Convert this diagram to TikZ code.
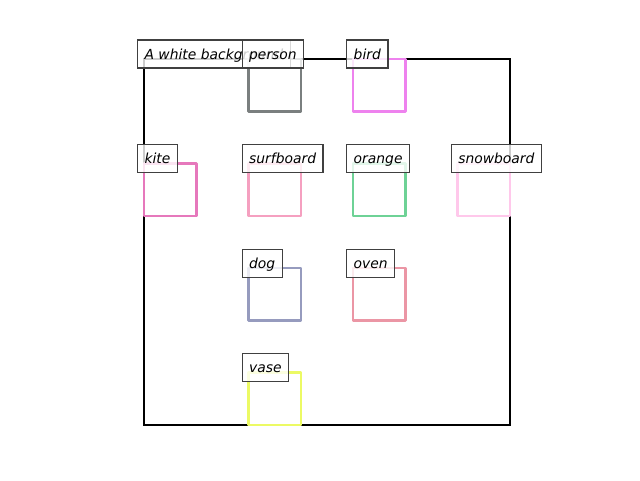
\documentclass[tikz,border=0pt]{standalone}
\usepackage{fontspec}
\newfontfamily\labfont{DejaVu Sans}
\definecolor{cperson}{RGB}{122,127,127}
\definecolor{cbird}{RGB}{238,130,238}
\definecolor{ckite}{RGB}{230,120,188}
\definecolor{csurf}{RGB}{245,160,192}
\definecolor{corange}{RGB}{110,210,150}
\definecolor{csnow}{RGB}{255,200,235}
\definecolor{cdog}{RGB}{150,155,190}
\definecolor{coven}{RGB}{235,150,165}
\definecolor{cvase}{RGB}{236,250,100}
\tikzset{
  frame/.style={draw=black, line width=1.8pt},
  obj/.style={draw=#1, line width=1.9pt, line join=round},
  lab/.style={anchor=base west, draw=black!75, line width=0.9pt,
    fill=white, fill opacity=0.8, text opacity=1, draw opacity=1,
    inner xsep=5.25pt, inner ysep=0pt, text height=14.25pt, text depth=6.75pt,
    font=\labfont\itshape\fontsize{10.4}{12}\selectfont}
}
\begin{document}
\begin{tikzpicture}[x=0.75pt,y=-0.75pt]
\useasboundingbox (0,0) rectangle (640,480);
\def\sq{52.29}
\draw[frame] (144,59) rectangle (510,425);
% squares
\coordinate (pPerson) at (248.57,59);
\coordinate (pBird) at (353.14,59);
\coordinate (pKite) at (144,163.57);
\coordinate (pSurf) at (248.57,163.57);
\coordinate (pOrange) at (353.14,163.57);
\coordinate (pSnow) at (457.71,163.57);
\coordinate (pDog) at (248.57,268.14);
\coordinate (pOven) at (353.14,268.14);
\coordinate (pVase) at (248.57,372.71);
\coordinate (pBg) at (144,59);
\draw[obj=cperson] (pPerson) rectangle ++(\sq,\sq);
\draw[obj=cbird] (pBird) rectangle ++(\sq,\sq);
\draw[obj=ckite] (pKite) rectangle ++(\sq,\sq);
\draw[obj=csurf] (pSurf) rectangle ++(\sq,\sq);
\draw[obj=corange] (pOrange) rectangle ++(\sq,\sq);
\draw[obj=csnow] (pSnow) rectangle ++(\sq,\sq);
\draw[obj=cdog] (pDog) rectangle ++(\sq,\sq);
\draw[obj=coven] (pOven) rectangle ++(\sq,\sq);
\draw[obj=cvase] (pVase) rectangle ++(\sq,\sq);
% labels
\node[lab] (lBg) at ([xshift=-5.25pt]pBg) {A white background};
\node[lab] (lPerson) at ([xshift=-5.25pt]pPerson) {person};
\node[lab] (lBird) at ([xshift=-5.25pt]pBird) {bird};
\node[lab] (lKite) at ([xshift=-5.25pt]pKite) {kite};
\node[lab] (lSurf) at ([xshift=-5.25pt]pSurf) {surfboard};
\node[lab] (lOrange) at ([xshift=-5.25pt]pOrange) {orange};
\node[lab] (lSnow) at ([xshift=-5.25pt]pSnow) {snowboard};
\node[lab] (lDog) at ([xshift=-5.25pt]pDog) {dog};
\node[lab] (lOven) at ([xshift=-5.25pt]pOven) {oven};
\node[lab] (lVase) at ([xshift=-5.25pt]pVase) {vase};
\end{tikzpicture}
\end{document}
